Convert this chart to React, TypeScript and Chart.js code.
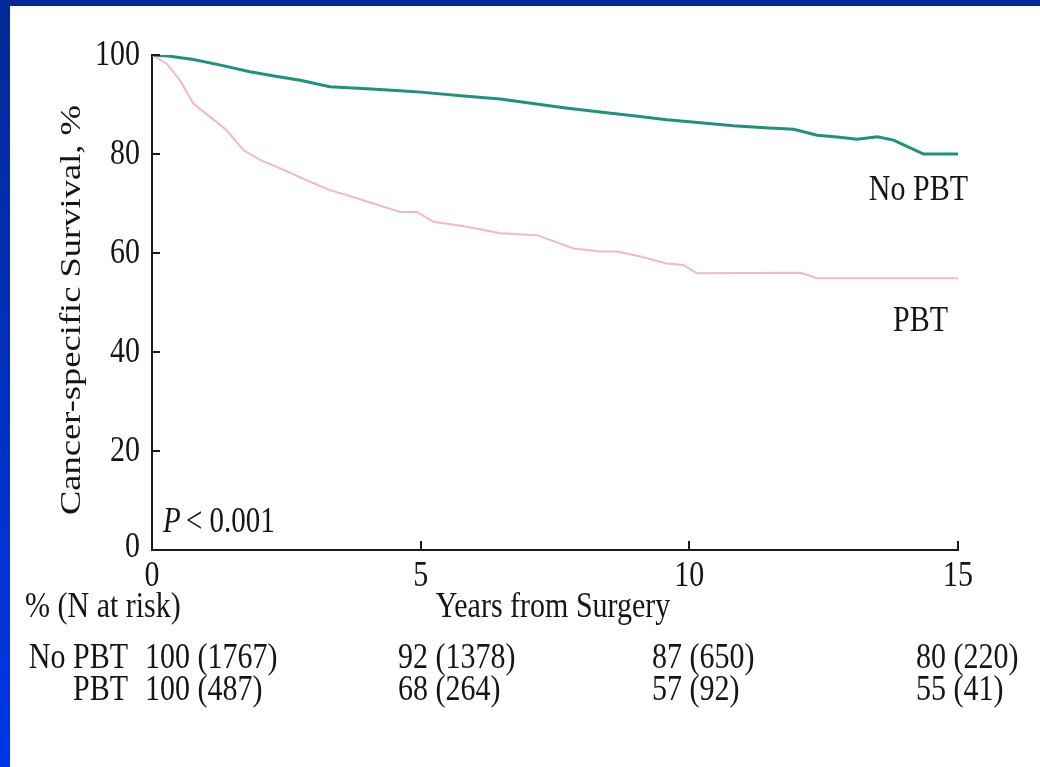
import React, { useEffect, useRef } from 'react';
import { Chart, registerables } from 'chart.js';

Chart.register(...registerables);

// ---- Data ----
const noPbtYears = [0, 0.3, 0.77, 1.3, 1.82, 2.3, 2.76, 3.31, 4.0, 4.62, 5.0, 5.8, 6.48, 7.09, 7.7, 8.34, 9.0, 9.58, 10.0, 10.82, 11.4, 11.94, 12.38, 12.8, 13.12, 13.5, 13.8, 14.12, 14.36, 15.0];
const noPbtSurvival = [100, 99.8, 99.1, 97.9, 96.6, 95.7, 94.9, 93.6, 93.2, 92.8, 92.5, 91.7, 91.1, 90.2, 89.3, 88.5, 87.7, 86.9, 86.5, 85.7, 85.3, 85.0, 83.8, 83.4, 83.0, 83.5, 82.8, 81.2, 80.0, 80.0];

const pbtYears = [0, 0.27, 0.52, 0.77, 1.08, 1.39, 1.7, 2.01, 2.45, 2.9, 3.31, 3.6, 4.0, 4.62, 4.93, 5.24, 5.86, 6.48, 7.16, 7.85, 8.34, 8.65, 9.09, 9.58, 9.89, 10.14, 12.07, 12.38, 15.0];
const pbtSurvival = [100, 98.3, 94.9, 90.2, 87.5, 84.8, 80.8, 78.8, 76.8, 74.6, 72.7, 71.8, 70.4, 68.3, 68.3, 66.3, 65.3, 64.0, 63.6, 60.9, 60.3, 60.3, 59.3, 57.9, 57.6, 55.9, 56.0, 54.9, 54.9];

const xTicks = [0, 5, 10, 15];
const yTicks = [0, 20, 40, 60, 80, 100];

const yTitle = 'Cancer-specific Survival, %';
const xTitle = 'Years from Surgery';
const pValueText = ' < 0.001';
const seriesLabels = ['No PBT', 'PBT'];
const riskHeader = '% (N at risk)';
const noPbtRisk = ['100 (1767)', '92 (1378)', '87 (650)', '80 (220)'];
const pbtRisk = ['100 (487)', '68 (264)', '57 (92)', '55 (41)'];

const SERIF = '"Liberation Serif", "DejaVu Serif", serif';
const TEXT = '#151515';
const STRETCH = 1.22; // the reference picture is stretched vertically

function drawText(ctx: CanvasRenderingContext2D, text: string, x: number, y: number, align: CanvasTextAlign, font: string) {
  ctx.save();
  ctx.translate(x, y);
  ctx.scale(1, STRETCH);
  ctx.font = font;
  ctx.textAlign = align;
  ctx.textBaseline = 'middle';
  ctx.fillText(text, 0, 0);
  ctx.restore();
}

const decorPlugin = {
  id: 'decor',
  beforeDraw(chart: any) {
    const { ctx, width, height } = chart;
    ctx.save();
    ctx.fillStyle = '#ffffff';
    ctx.fillRect(0, 0, width, height);
    ctx.fillStyle = '#002a96';
    ctx.fillRect(0, 0, width, 6);
    const g = ctx.createLinearGradient(0, 0, 0, height);
    g.addColorStop(0, '#002a96');
    g.addColorStop(1, '#0036e8');
    ctx.fillStyle = g;
    ctx.fillRect(0, 0, 10, height);
    ctx.restore();
  },
  afterDraw(chart: any) {
    const { ctx, chartArea } = chart;
    const xs = chart.scales.x;
    const ys = chart.scales.y;
    const F = `30px ${SERIF}`;
    ctx.save();
    // inward tick marks
    ctx.strokeStyle = '#1a1a1a';
    ctx.lineWidth = 2;
    yTicks.forEach((v) => {
      if (v === 0) return;
      const y = Math.round(ys.getPixelForValue(v));
      ctx.beginPath();
      ctx.moveTo(chartArea.left, y);
      ctx.lineTo(chartArea.left + 8, y);
      ctx.stroke();
    });
    xTicks.forEach((v) => {
      if (v === 0) return;
      const x = Math.round(xs.getPixelForValue(v));
      ctx.beginPath();
      ctx.moveTo(x, chartArea.bottom);
      ctx.lineTo(x, chartArea.bottom - 9);
      ctx.stroke();
    });

    ctx.fillStyle = TEXT;
    // tick labels
    yTicks.forEach((v) => {
      const y = ys.getPixelForValue(v) - (v === 0 ? 3 : 0);
      drawText(ctx, String(v), chartArea.left - 12, y, 'right', F);
    });
    xTicks.forEach((v) => {
      drawText(ctx, String(v), xs.getPixelForValue(v), chartArea.bottom + 26, 'center', F);
    });

    // y title (rotated, stretched along its length like the reference)
    ctx.save();
    ctx.translate(72, 310);
    ctx.rotate(-Math.PI / 2);
    ctx.font = `29px ${SERIF}`;
    const tw = ctx.measureText(yTitle).width;
    ctx.scale(410 / tw, 1);
    ctx.textAlign = 'center';
    ctx.textBaseline = 'middle';
    ctx.fillText(yTitle, 0, 0);
    ctx.restore();

    // P value
    ctx.save();
    ctx.translate(163, 523);
    ctx.scale(1, STRETCH);
    ctx.textBaseline = 'middle';
    ctx.textAlign = 'left';
    ctx.font = `italic 29px ${SERIF}`;
    ctx.fillText('P', 0, 0);
    const pw = ctx.measureText('P').width;
    ctx.font = `29px ${SERIF}`;
    ctx.fillText(pValueText, pw - 2, 0);
    ctx.restore();

    // curve labels
    drawText(ctx, seriesLabels[0], 968, 190, 'right', F);
    drawText(ctx, seriesLabels[1], 948, 321, 'right', F);

    // x title and risk table
    drawText(ctx, xTitle, 553, 607, 'center', F);
    drawText(ctx, riskHeader, 25, 607, 'left', F);
    drawText(ctx, seriesLabels[0], 128, 658, 'right', F);
    drawText(ctx, seriesLabels[1], 128, 690, 'right', F);
    const cols = [145, 398, 652, 916];
    noPbtRisk.forEach((t, i) => drawText(ctx, t, cols[i], 658, 'left', F));
    pbtRisk.forEach((t, i) => drawText(ctx, t, cols[i], 690, 'left', F));
    ctx.restore();
  },
};

export default function App() {
  const canvasRef = useRef<HTMLCanvasElement | null>(null);

  useEffect(() => {
    if (!canvasRef.current) return;
    const chart = new Chart(canvasRef.current, {
      type: 'line',
      data: {
        datasets: [
          {
            label: seriesLabels[0],
            data: noPbtYears.map((x, i) => ({ x, y: noPbtSurvival[i] })),
            borderColor: '#20917c',
            borderWidth: 3,
            pointRadius: 0,
            tension: 0,
            fill: false,
          },
          {
            label: seriesLabels[1],
            data: pbtYears.map((x, i) => ({ x, y: pbtSurvival[i] })),
            borderColor: '#f1b9c3',
            borderWidth: 2,
            pointRadius: 0,
            tension: 0,
            fill: false,
          },
        ],
      },
      options: {
        animation: false,
        responsive: false,
        events: [],
        layout: { padding: { left: 0, right: 82, top: 55, bottom: 0 } },
        plugins: {
          legend: { display: false },
          tooltip: { enabled: false },
          title: { display: false },
        },
        scales: {
          x: {
            type: 'linear',
            min: 0,
            max: 15,
            afterFit: (s: any) => {
              s.height = 217;
            },
            afterBuildTicks: (s: any) => {
              s.ticks = xTicks.map((v) => ({ value: v }));
            },
            ticks: { display: false },
            grid: { drawOnChartArea: false, drawTicks: false, color: 'rgba(0,0,0,0)' },
            border: { display: true, color: '#1a1a1a', width: 2 },
          },
          y: {
            type: 'linear',
            min: 0,
            max: 100,
            afterFit: (s: any) => {
              s.width = 152;
            },
            afterBuildTicks: (s: any) => {
              s.ticks = yTicks.map((v) => ({ value: v }));
            },
            ticks: { display: false },
            grid: { drawOnChartArea: false, drawTicks: false, color: 'rgba(0,0,0,0)' },
            border: { display: true, color: '#1a1a1a', width: 2 },
          },
        },
      },
      plugins: [decorPlugin],
    });
    return () => chart.destroy();
  }, []);

  return (
    <div style={{ position: 'absolute', left: 0, top: 0, width: 1040, height: 767, background: '#fff' }}>
      <canvas ref={canvasRef} width={1040} height={767} style={{ display: 'block' }} />
    </div>
  );
}
